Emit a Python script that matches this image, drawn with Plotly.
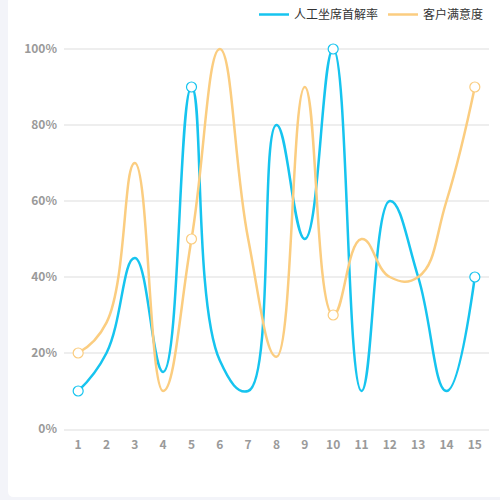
import plotly.graph_objects as go

# ---- data ----
categories = [str(i) for i in range(1, 16)]
first_resolution = [10, 20, 45, 15, 90, 18, 10, 80, 50, 100, 10, 60, 40, 10, 40]
satisfaction = [20, 28, 70, 10, 50, 100, 50, 19, 90, 30, 50, 40, 40, 60, 90]
series_names = ["人工坐席首解率", "客户满意度"]
y_tick_values = [0, 20, 40, 60, 80, 100]
y_tick_labels = ["0%", "20%", "40%", "60%", "80%", "100%"]
symbol_points = [0, 4, 9, 14]  # points where a symbol is displayed

# ---- style ----
colors = ["#16c4ef", "#fbcd80"]
W, H = 500, 500
ML, MR, MT, MB = 64, 11, 30, 71
plot_w = W - ML - MR
plot_h = H - MT - MB


def xp(px):  # figure pixel -> paper x
    return (px - ML) / plot_w


def yp(py):  # figure pixel -> paper y
    return (H - MB - py) / plot_h


fig = go.Figure()
for name, vals, col in zip(series_names, [first_resolution, satisfaction], colors):
    fig.add_trace(go.Scatter(
        x=categories, y=vals, name=name, mode="lines",
        line=dict(color=col, width=2.5, shape="spline", smoothing=1.3),
        hoverinfo="skip",
    ))
for name, vals, col in zip(series_names, [first_resolution, satisfaction], colors):
    fig.add_trace(go.Scatter(
        x=[categories[i] for i in symbol_points],
        y=[vals[i] for i in symbol_points],
        mode="markers", showlegend=False, cliponaxis=False,
        marker=dict(size=10, color="white", line=dict(color=col, width=1.2)),
        hoverinfo="skip",
    ))

# white rounded card over a light page background
L, R, T, B, r = 8, 520, -4, 497, 6
path = (
    f"M {xp(L + r)},{yp(T)} L {xp(R)},{yp(T)} L {xp(R)},{yp(B)} "
    f"L {xp(L + r)},{yp(B)} Q {xp(L)},{yp(B)} {xp(L)},{yp(B - r)} "
    f"L {xp(L)},{yp(T + r)} Q {xp(L)},{yp(T)} {xp(L + r)},{yp(T)} Z"
)
fig.add_shape(type="path", path=path, xref="paper", yref="paper",
              fillcolor="white", line=dict(width=0), layer="below")

tick_font = dict(family="Noto Sans CJK SC", size=12, color="#9a9a9a", weight=600)
fig.update_layout(
    width=W, height=H,
    margin=dict(l=ML, r=MR, t=MT, b=MB, autoexpand=False),
    paper_bgcolor="#f3f4f9",
    plot_bgcolor="rgba(0,0,0,0)",
    hovermode=False,
    showlegend=True,
    legend=dict(
        orientation="h", x=xp(489), xanchor="right", y=yp(0), yanchor="top",
        font=dict(family="Noto Sans CJK SC", size=12, color="#333333"),
        bgcolor="rgba(0,0,0,0)", itemwidth=30, traceorder="normal",
    ),
    xaxis=dict(
        type="category", range=[-0.5, len(categories) - 0.5],
        showgrid=False, showline=True, linecolor="#eeeeee", linewidth=1.5,
        ticks="", tickfont=tick_font, ticklabelstandoff=4,
        fixedrange=True,
    ),
    yaxis=dict(
        range=[0, 105], tickvals=y_tick_values, ticktext=y_tick_labels,
        showgrid=True, gridcolor="#eeeeee", gridwidth=1.5, zeroline=False,
        showline=False, ticks="", tickfont=tick_font, ticklabelstandoff=6,
        fixedrange=True,
    ),
)

fig.write_html(
    "out.html",
    config={"displayModeBar": False, "staticPlot": True},
    post_script="document.body.style.margin='0';",
)
